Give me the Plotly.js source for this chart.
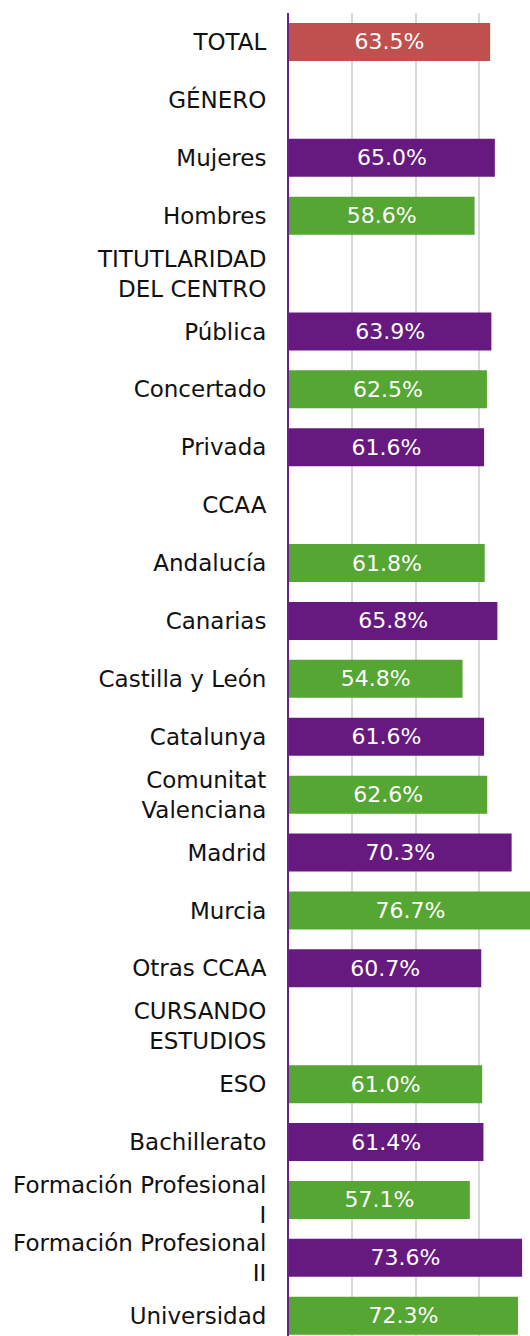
<!DOCTYPE html>
<html>
<head>
<meta charset="utf-8">
<script src="https://cdn.plot.ly/plotly-3.0.1.min.js"></script>
<style>
  html, body { margin: 0; padding: 0; background: #ffffff; overflow: hidden; }
  #chart { width: 530px; height: 1336px; }
</style>
</head>
<body>
<div id="chart"></div>
<script>
// Category labels (top to bottom)
const categories = [
  "TOTAL", "GÉNERO", "Mujeres", "Hombres", "TITUTLARIDAD<br>DEL CENTRO",
  "Pública", "Concertado", "Privada", "CCAA", "Andalucía", "Canarias",
  "Castilla y León", "Catalunya", "Comunitat<br>Valenciana", "Madrid", "Murcia",
  "Otras CCAA", "CURSANDO<br>ESTUDIOS", "ESO", "Bachillerato",
  "Formación Profesional<br>I", "Formación Profesional<br>II", "Universidad"
];
// Percentages (null = section header without bar)
const values = [
  63.5, null, 65.0, 58.6, null,
  63.9, 62.5, 61.6, null, 61.8, 65.8,
  54.8, 61.6, 62.6, 70.3, 76.7,
  60.7, null, 61.0, 61.4,
  57.1, 73.6, 72.3
];

const RED = "#c0504d", PURPLE = "#661a80", GREEN = "#55a632";
let k = 0;
const colors = values.map(v => {
  if (v === null) return "rgba(0,0,0,0)";
  const c = k === 0 ? RED : (k % 2 === 1 ? PURPLE : GREEN);
  k++;
  return c;
});

const trace = {
  type: "bar",
  orientation: "h",
  y: categories,
  x: values,
  marker: { color: colors, line: { width: 0 } },
  text: values.map(v => v === null ? "" : v.toFixed(1) + "%"),
  textposition: "inside",
  insidetextanchor: "middle",
  constraintext: "none",
  textangle: 0,
  textfont: { family: "DejaVu Sans", size: 22, color: "#ffffff" },
  hoverinfo: "none",
  cliponaxis: true
};

const layout = {
  width: 530,
  height: 1336,
  margin: { l: 289, r: 0, t: 13, b: 0, pad: 0 },
  paper_bgcolor: "#ffffff",
  plot_bgcolor: "#ffffff",
  bargap: 0.344,
  showlegend: false,
  font: { family: "DejaVu Sans", size: 23, color: "#111111" },
  xaxis: {
    range: [0, 76.1],
    dtick: 20,
    tick0: 0,
    showgrid: true,
    gridcolor: "#d9d9d9",
    gridwidth: 2,
    zeroline: false,
    showticklabels: false,
    ticks: "",
    showline: false,
    fixedrange: true
  },
  yaxis: {
    type: "category",
    range: [22.35, -0.5],
    showgrid: false,
    zeroline: false,
    showline: true,
    linecolor: "#6a1f8a",
    linewidth: 2,
    ticks: "",
    ticklabelstandoff: 16,
    tickfont: { family: "DejaVu Sans", size: 23, color: "#111111" },
    fixedrange: true
  }
};

Plotly.newPlot("chart", [trace], layout, { staticPlot: true, displayModeBar: false });
</script>
</body>
</html>
